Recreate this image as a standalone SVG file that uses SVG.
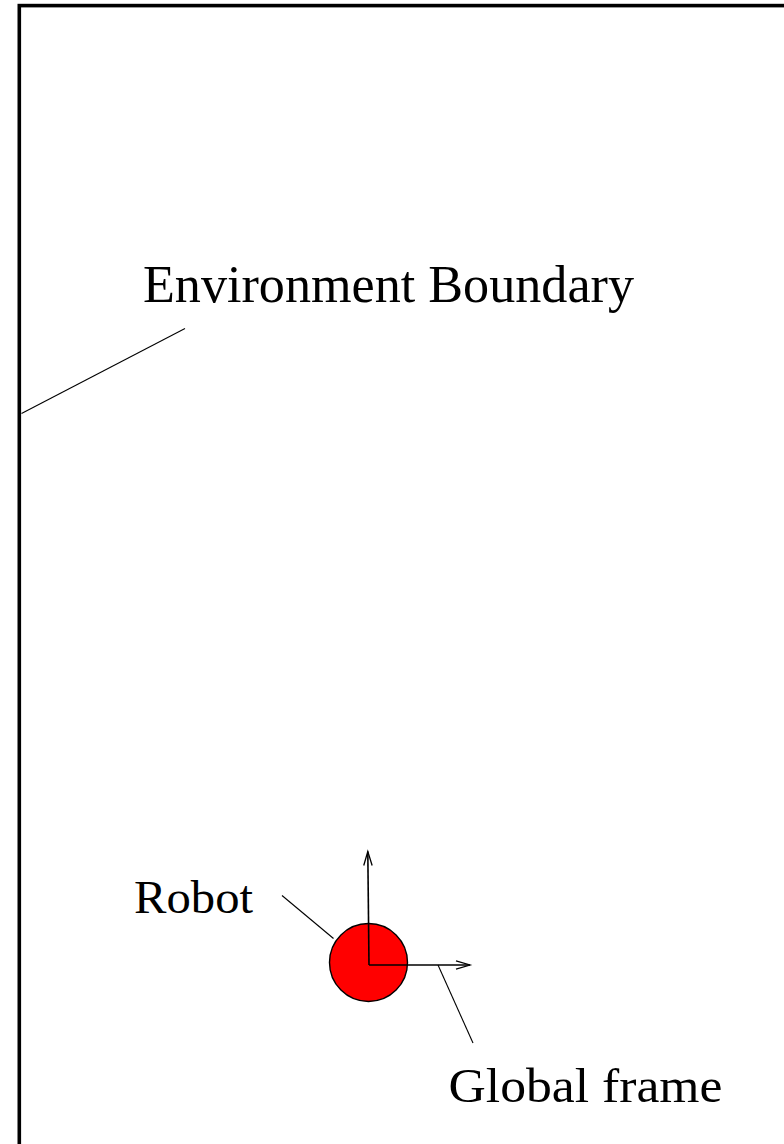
<svg xmlns="http://www.w3.org/2000/svg" width="784" height="1144" viewBox="0 0 784 1144">
  <style>
    .label { font-family: "Liberation Serif", "Times New Roman", serif; fill: #000; }
    .leader { stroke: #000; stroke-width: 1.1; fill: none; }
    .axis { stroke: #000; stroke-width: 1.6; fill: none; }
  </style>
  <defs>
    <marker id="open-arrow" markerUnits="userSpaceOnUse" markerWidth="20" markerHeight="12" viewBox="-15 -6 17 12" refX="0" refY="0" orient="auto">
      <path d="M -14 -4.2 L 0 0 L -14 4.2" fill="none" stroke="#000" stroke-width="1.3"/>
    </marker>
  </defs>

  <rect width="784" height="1144" fill="#fff"/>

  <!-- environment boundary -->
  <g id="boundary">
    <rect x="19.3" y="5.6" width="800" height="1170" fill="none" stroke="#000" stroke-width="3.6"/>
  </g>

  <!-- robot body -->
  <g id="robot">
    <circle cx="368.5" cy="962.5" r="39" fill="#ff0000" stroke="#000" stroke-width="1.4"/>
  </g>

  <!-- global frame axes -->
  <g id="global-frame">
    <line class="axis" x1="369" y1="965" x2="367.8" y2="851.5" marker-end="url(#open-arrow)"/>
    <line class="axis" x1="369" y1="965" x2="470" y2="965" marker-end="url(#open-arrow)"/>
  </g>

  <!-- leader lines -->
  <g id="connectors">
    <line class="leader" x1="21.5" y1="413.5" x2="185" y2="328.5"/>
    <line class="leader" x1="282" y1="895.5" x2="333.5" y2="938.5"/>
    <line class="leader" x1="438" y1="965" x2="473" y2="1043"/>
  </g>

  <!-- labels -->
  <g id="label-boundary">
    <text class="label" x="143" y="301.5" font-size="52" textLength="491" lengthAdjust="spacingAndGlyphs">Environment Boundary</text>
  </g>
  <g id="label-robot">
    <text class="label" x="134" y="912.5" font-size="46" textLength="119" lengthAdjust="spacingAndGlyphs">Robot</text>
  </g>
  <g id="label-global-frame">
    <text class="label" x="448.5" y="1102" font-size="48" textLength="274" lengthAdjust="spacingAndGlyphs">Global frame</text>
  </g>
</svg>
